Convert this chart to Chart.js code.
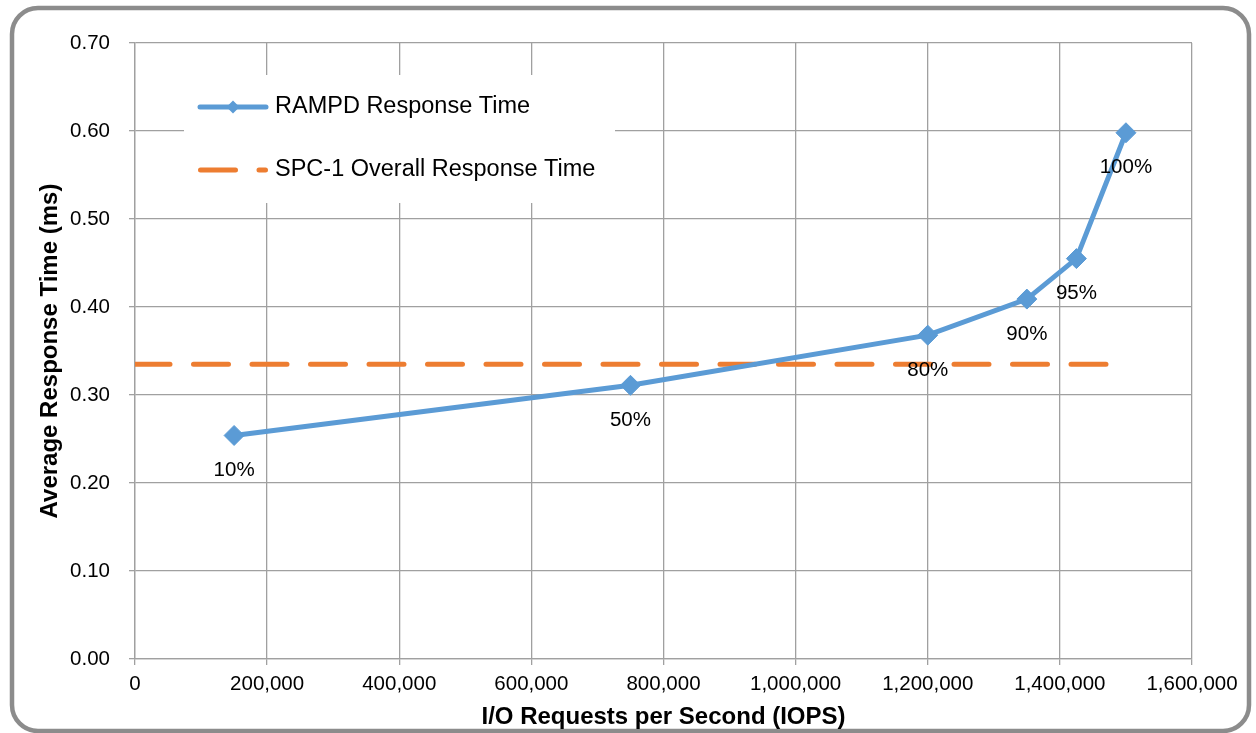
<!DOCTYPE html>
<html>
<head>
<meta charset="utf-8">
<script src="https://cdn.jsdelivr.net/npm/chart.js@4/dist/chart.umd.min.js"></script>
<style>
  html, body { margin: 0; padding: 0; background: #fff; }
  #chart { display: block; }
</style>
</head>
<body>
<canvas id="chart" width="1256" height="733"></canvas>
<script>
// Данные
const iops = [150000, 750000, 1200000, 1350000, 1425000, 1500000];
const responseTimes = [0.254, 0.311, 0.368, 0.409, 0.455, 0.598];
const loadLabels = ['10%', '50%', '80%', '90%', '95%', '100%'];
const overallX = [0, 1500000];
const overallRT = 0.335;

const seriesNames = ['RAMPD Response Time', 'SPC-1 Overall Response Time'];
const xTitle = 'I/O Requests per Second (IOPS)';
const yTitle = 'Average Response Time (ms)';

const blue = '#5b9bd5';
const orange = '#ed7d31';
const gridColor = '#a0a0a0';
const FONT = '"Liberation Sans", Arial, sans-serif';
const dash = [35, 23.5];

// Рамка вокруг картинки
const framePlugin = {
    id: 'frame',
    beforeDraw(chart) {
        const ctx = chart.ctx;
        ctx.save();
        ctx.strokeStyle = '#8c8c8c';
        ctx.lineWidth = 4.5;
        ctx.beginPath();
        ctx.roundRect(12, 8, 1237, 723, 26);
        ctx.stroke();
        ctx.restore();
    }
};

// Легенда внутри области графика
const legendPlugin = {
    id: 'insideLegend',
    beforeDatasetsDraw(chart) {
        const ctx = chart.ctx;
        ctx.save();
        ctx.fillStyle = '#fff';
        ctx.fillRect(184, 75, 431, 128);

        ctx.lineCap = 'round';
        ctx.lineWidth = 5;
        // RAMPD
        ctx.strokeStyle = blue;
        ctx.beginPath();
        ctx.moveTo(200, 107);
        ctx.lineTo(266, 107);
        ctx.stroke();
        ctx.fillStyle = blue;
        ctx.beginPath();
        ctx.moveTo(226.5, 107);
        ctx.lineTo(233, 100.5);
        ctx.lineTo(239.5, 107);
        ctx.lineTo(233, 113.5);
        ctx.closePath();
        ctx.fill();
        // SPC-1 overall
        ctx.strokeStyle = orange;
        ctx.setLineDash(dash);
        ctx.beginPath();
        ctx.moveTo(200.5, 170);
        ctx.lineTo(265.5, 170);
        ctx.stroke();
        ctx.setLineDash([]);

        ctx.fillStyle = '#000';
        ctx.font = '23.5px ' + FONT;
        ctx.textBaseline = 'middle';
        ctx.textAlign = 'left';
        ctx.fillText(seriesNames[0], 275, 107);
        ctx.fillText(seriesNames[1], 275, 170);
        ctx.restore();
    }
};

// Подписи точек
const pointLabelsPlugin = {
    id: 'pointLabels',
    afterDatasetsDraw(chart) {
        const ctx = chart.ctx;
        const meta = chart.getDatasetMeta(0);
        ctx.save();
        ctx.fillStyle = '#000';
        ctx.font = '20.5px ' + FONT;
        ctx.textAlign = 'center';
        ctx.textBaseline = 'middle';
        meta.data.forEach((pt, i) => {
            ctx.fillText(loadLabels[i], pt.x, pt.y + 35);
        });
        ctx.restore();
    }
};

new Chart(document.getElementById('chart'), {
    type: 'scatter',
    data: {
        datasets: [
            {
                label: seriesNames[0],
                data: iops.map((x, i) => ({ x: x, y: responseTimes[i] })),
                showLine: true,
                borderColor: blue,
                backgroundColor: blue,
                borderWidth: 5,
                pointStyle: 'rectRot',
                pointRadius: 10,
                pointBorderWidth: 1,
                pointBorderColor: blue,
                pointBackgroundColor: blue
            },
            {
                label: seriesNames[1],
                data: overallX.map(x => ({ x: x, y: overallRT })),
                showLine: true,
                borderColor: orange,
                borderWidth: 5,
                borderDash: dash,
                borderCapStyle: 'round',
                pointRadius: 0
            }
        ]
    },
    options: {
        responsive: false,
        animation: false,
        layout: { padding: { left: 0, top: 43, right: 64, bottom: 0 } },
        plugins: {
            legend: { display: false },
            tooltip: { enabled: false }
        },
        scales: {
            x: {
                type: 'linear',
                min: 0,
                max: 1600000,
                afterFit: s => { s.height = 74; },
                grid: { color: gridColor, lineWidth: 1.3, tickLength: 6 },
                border: { color: gridColor, width: 1.3 },
                ticks: {
                    stepSize: 200000,
                    padding: 7,
                    color: '#000',
                    font: { family: FONT, size: 20.5 },
                    maxRotation: 0,
                    callback: v => v.toLocaleString('en-US')
                },
                title: {
                    display: true,
                    text: xTitle,
                    color: '#000',
                    font: { family: FONT, size: 24, weight: 'bold' },
                    padding: { top: 0, bottom: 1.5 }
                }
            },
            y: {
                min: 0,
                max: 0.7,
                afterFit: s => { s.width = 135; },
                grid: { color: gridColor, lineWidth: 1.3, tickLength: 6 },
                border: { color: gridColor, width: 1.3 },
                ticks: {
                    stepSize: 0.1,
                    padding: 19,
                    color: '#000',
                    font: { family: FONT, size: 20.5 },
                    callback: v => v.toFixed(2)
                },
                title: {
                    display: true,
                    text: yTitle,
                    color: '#000',
                    font: { family: FONT, size: 24, weight: 'bold' },
                    padding: { top: 36, bottom: 0 }
                }
            }
        }
    },
    plugins: [legendPlugin, pointLabelsPlugin, framePlugin]
});
</script>
</body>
</html>
